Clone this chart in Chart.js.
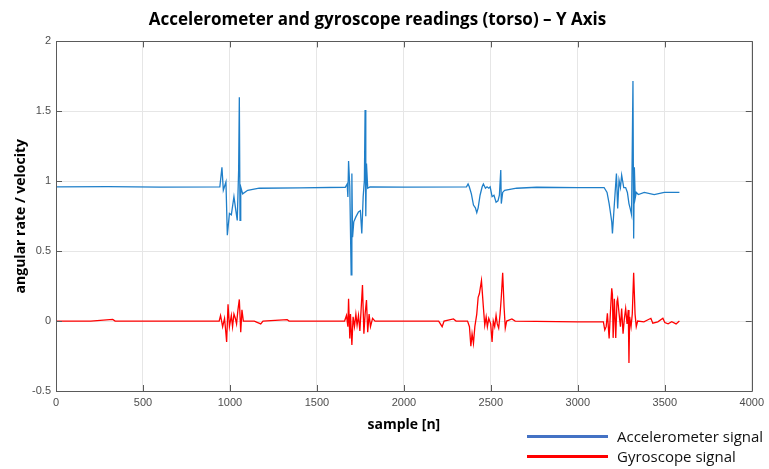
<!DOCTYPE html>
<html>
<head>
<meta charset="utf-8">
<script src="https://cdn.jsdelivr.net/npm/chart.js@4/dist/chart.umd.min.js"></script>
<style>
  body { margin: 0; background: #fff; }
  #wrap { position: relative; width: 769px; height: 469px; }
  .leg { position: absolute; left: 527px; height: 20px; font: 15px "Open Sans", sans-serif; color: #111; }
  .leg span.ln { position: absolute; left: 0; top: 9px; width: 81px; height: 3px; }
  .leg span.tx { position: absolute; left: 90px; top: 0; white-space: nowrap; line-height: 20px; }
</style>
</head>
<body>
<div id="wrap">
  <canvas id="imuChart"></canvas>
  <div class="leg" style="top:426px"><span class="ln" style="background:#4472c4"></span><span class="tx">Accelerometer signal</span></div>
  <div class="leg" style="top:446px"><span class="ln" style="background:#ff0000"></span><span class="tx">Gyroscope signal</span></div>
</div>
<script>
// ==========================================
// Torso IMU readings, Y axis
// ==========================================

const xTicks = [0, 500, 1000, 1500, 2000, 2500, 3000, 3500, 4000];
const yTicks = [-0.5, 0, 0.5, 1, 1.5, 2];

// accelerometer: sample index / value
const accelSamples = [
    0, 300, 600,
    942, 954, 962, 977, 985, 997, 1008, 1023, 1034, 1042, 1050, 1054, 1058, 1062, 1073, 1102, 1168, 1400,
    1663, 1674, 1678, 1682, 1689, 1697, 1701, 1705, 1712, 1724, 1739, 1750, 1758, 1766, 1773, 1777, 1781, 1785, 1792, 1805, 2000,
    2360, 2369, 2376, 2388, 2400, 2411, 2419, 2427, 2438, 2450, 2457, 2469, 2478, 2488, 2496, 2507, 2518, 2530, 2541, 2549, 2557, 2560, 2568, 2579, 2648, 2763, 3000,
    3151, 3168, 3180, 3187, 3195, 3199, 3206, 3214, 3222, 3229, 3237, 3245, 3252, 3264, 3275, 3285, 3294, 3302, 3309, 3317, 3321, 3325, 3330, 3336, 3348, 3382, 3439, 3497, 3584
];
const accelValues = [
    0.96, 0.962, 0.958,
    0.96, 1.10, 0.936, 0.995, 0.614, 0.77, 0.76, 0.89, 0.79, 0.72, 1.08, 1.60, 0.72, 0.96, 0.91, 0.935, 0.95, 0.952,
    0.957, 0.98, 0.888, 1.145, 0.96, 0.33, 1.055, 0.60, 0.71, 0.745, 0.78, 0.79, 0.626, 0.89, 1.007, 1.51, 0.75, 1.126, 0.95, 0.96, 0.958,
    0.96, 0.98, 0.96, 0.91, 0.83, 0.81, 0.775, 0.81, 0.90, 0.96, 0.98, 0.95, 0.96, 0.95, 0.96, 0.89, 0.90, 0.85, 0.86, 0.90, 1.08, 0.84, 0.92, 0.935, 0.95, 0.957, 0.955,
    0.955, 0.92, 0.84, 0.78, 0.71, 0.626, 0.76, 0.91, 1.055, 0.805, 1.007, 0.955, 1.043, 0.955, 0.955, 0.92, 0.84, 0.80, 0.76, 1.717, 0.59, 1.10, 0.88, 0.92, 0.905, 0.92, 0.905, 0.92, 0.92
];

// gyroscope: sample index / value
const gyroSamples = [
    0, 200, 326, 340, 600,
    938, 946, 958, 969, 977, 981, 989, 997, 1008, 1015, 1023, 1031, 1038, 1046, 1054, 1062, 1069, 1077, 1140, 1177, 1190, 1329, 1340,
    1659, 1670, 1678, 1682, 1689, 1693, 1701, 1708, 1716, 1724, 1731, 1739, 1747, 1754, 1762, 1770, 1777, 1785, 1792, 1800, 1808, 1820, 1834, 2000,
    2200, 2220, 2231, 2285, 2300, 2366, 2377, 2385, 2392, 2400, 2408, 2419, 2427, 2434, 2446, 2457, 2465, 2473, 2480, 2488, 2499, 2507, 2514, 2522, 2530, 2537, 2545, 2553, 2560, 2568, 2576, 2583, 2591, 2621, 2640, 3000,
    3147, 3155, 3163, 3170, 3180, 3187, 3195, 3199, 3203, 3210, 3218, 3225, 3229, 3237, 3245, 3252, 3260, 3267, 3275, 3283, 3290, 3294, 3298, 3306, 3313, 3321, 3329, 3336, 3344, 3380, 3420, 3431, 3460, 3489, 3500, 3519, 3540, 3565, 3584
];
const gyroValues = [
    0, 0, 0.012, 0, 0,
    0, 0.04, -0.04, 0.02, -0.09, -0.15, 0.12, -0.04, 0.04, -0.04, 0.05, 0.02, -0.02, 0.08, 0.155, -0.08, 0.08, 0, 0, -0.02, 0, 0.01, 0,
    0, 0.04, -0.04, 0.16, -0.124, 0.05, -0.17, 0.03, -0.04, 0.05, -0.03, 0.04, -0.07, 0.08, 0.257, -0.09, 0.05, 0.15, -0.08, 0.05, -0.04, 0.02, 0, 0,
    0, -0.04, 0, 0.015, 0, 0, -0.04, -0.18, -0.09, -0.16, -0.04, 0.05, 0.17, 0.195, 0.29, 0.10, -0.03, 0.03, -0.04, 0.02, -0.02, -0.15, 0, -0.04, 0.04, -0.02, -0.05, 0.05, 0.17, 0.345, 0.10, -0.05, 0, 0.015, 0, -0.005,
    -0.005, -0.064, -0.04, 0.055, -0.124, 0.055, 0.234, 0.19, -0.12, 0.16, -0.12, 0.14, 0.16, 0.055, -0.04, 0.09, -0.09, 0.01, 0.09, -0.02, 0.08, -0.30, 0.03, -0.04, 0.05, 0.345, 0.05, -0.04, 0, -0.005, 0.02, -0.015, -0.005, 0.02, -0.01, -0.02, -0.005, -0.02, 0
];

const toPoints = (xs, ys) => xs.map((x, i) => ({ x: x, y: ys[i] }));

// MATLAB style box with inward ticks on all four sides
const boxFrame = {
    id: 'boxFrame',
    afterDatasetsDraw(chart) {
        const { ctx, chartArea: a, scales } = chart;
        const t = 6;
        ctx.save();
        ctx.strokeStyle = '#5a5a5a';
        ctx.lineWidth = 1;
        ctx.beginPath();
        ctx.rect(Math.round(a.left) + 0.5, Math.round(a.top) + 0.5, Math.round(a.right - a.left), Math.round(a.bottom - a.top));
        xTicks.forEach(v => {
            const px = Math.round(scales.x.getPixelForValue(v)) + 0.5;
            ctx.moveTo(px, a.bottom); ctx.lineTo(px, a.bottom - t);
            ctx.moveTo(px, a.top); ctx.lineTo(px, a.top + t);
        });
        yTicks.forEach(v => {
            const py = Math.round(scales.y.getPixelForValue(v)) + 0.5;
            ctx.moveTo(a.left, py); ctx.lineTo(a.left + t, py);
            ctx.moveTo(a.right, py); ctx.lineTo(a.right - t, py);
        });
        ctx.stroke();
        ctx.restore();
    }
};

const tickFont = { family: '"Liberation Sans", Arial, sans-serif', size: 11 };
const titleFont = { family: '"Open Sans", sans-serif', size: 14, weight: 'bold' };

new Chart(document.getElementById('imuChart'), {
    type: 'line',
    data: {
        datasets: [
            { label: 'Accelerometer signal', data: toPoints(accelSamples, accelValues), borderColor: '#1f7fc9', borderWidth: 1.3, pointRadius: 0, tension: 0 },
            { label: 'Gyroscope signal', data: toPoints(gyroSamples, gyroValues), borderColor: '#ff0000', borderWidth: 1.3, pointRadius: 0, tension: 0 }
        ]
    },
    options: {
        responsive: true, maintainAspectRatio: false, animation: false,
        layout: { padding: { top: 0, right: 14, bottom: 0, left: 0 } },
        plugins: {
            legend: { display: false },
            tooltip: { enabled: false },
            title: {
                display: true,
                text: 'Accelerometer and gyroscope readings (torso) \u2013 Y Axis',
                color: '#000',
                font: { family: '"Open Sans", sans-serif', size: 17, weight: 'bold' },
                padding: { top: 10, bottom: 11 }
            }
        },
        scales: {
            x: {
                type: 'linear', min: 0, max: 4000,
                afterBuildTicks: s => { s.ticks = xTicks.map(v => ({ value: v })); },
                afterFit: s => { s.height = 78; },
                ticks: { color: '#4d4d4d', font: tickFont, padding: 5, maxRotation: 0, callback: v => String(v) },
                grid: { color: '#e6e6e6', drawTicks: false },
                border: { display: false },
                title: { display: true, text: 'sample [n]', color: '#000', font: titleFont, padding: { top: 4, bottom: 36 } }
            },
            y: {
                min: -0.5, max: 2,
                afterBuildTicks: s => { s.ticks = yTicks.map(v => ({ value: v })); },
                afterFit: s => { s.width = 56; },
                ticks: { color: '#4d4d4d', font: tickFont, padding: 5, callback: v => String(v) },
                grid: { color: '#e6e6e6', drawTicks: false },
                border: { display: false },
                title: { display: true, text: 'angular rate / velocity', color: '#000', font: titleFont, padding: { top: 13, bottom: 4 } }
            }
        }
    },
    plugins: [boxFrame]
});
</script>
</body>
</html>
